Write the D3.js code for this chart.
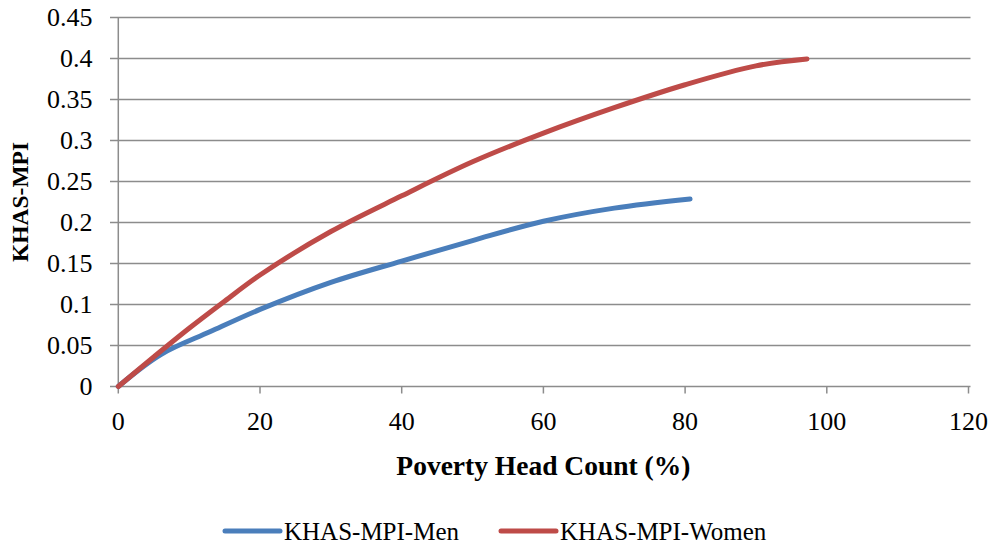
<!DOCTYPE html>
<html><head><meta charset="utf-8">
<script src="https://cdn.jsdelivr.net/npm/d3@7"></script>
<style>body{margin:0;background:#fff}</style>
</head><body>
<svg id="chart" width="995" height="546"></svg>
<script>
// ---- data ----
const menX   = [0, 6, 13, 20, 30, 40, 50, 60, 70, 80.7];
const menY   = [0, 0.039, 0.067, 0.094, 0.127, 0.153, 0.178, 0.2015, 0.2175, 0.2287];
const womenX = [0, 5, 10, 15, 20, 30, 40, 50, 60, 70, 80, 90, 97.2];
const womenY = [0, 0.036, 0.071, 0.104, 0.136, 0.189, 0.2325, 0.274, 0.309, 0.34, 0.368, 0.391, 0.3994];
const xTicks = [0, 20, 40, 60, 80, 100, 120];
const yTicks = [0, 0.05, 0.1, 0.15, 0.2, 0.25, 0.3, 0.35, 0.4, 0.45];
const yTickLabels = ["0", "0.05", "0.1", "0.15", "0.2", "0.25", "0.3", "0.35", "0.4", "0.45"];
const seriesNames = ["KHAS-MPI-Men", "KHAS-MPI-Women"];
const xTitle = "Poverty Head Count (%)";
const yTitle = "KHAS-MPI";

// ---- setup ----
const colors = ["#4a7ebb", "#be4b48"];
const font = "'Liberation Serif', 'Times New Roman', serif";
const gridColor = "#8c8c8c";
const svg = d3.select("#chart");
const x = d3.scaleLinear().domain([0, 120]).range([118.3, 968.5]);
const y = d3.scaleLinear().domain([0, 0.45]).range([386.5, 17.5]);

// gridlines + y tick labels
const yAxis = svg.append("g");
yAxis.selectAll("line").data(yTicks).join("line")
  .attr("x1", 110).attr("x2", x(120) + 2)
  .attr("y1", d => y(d)).attr("y2", d => y(d))
  .attr("stroke", gridColor).attr("stroke-width", 1.5);
yAxis.selectAll("text").data(yTicks).join("text")
  .attr("x", 92.5).attr("y", d => y(d) + 8.8)
  .attr("text-anchor", "end")
  .attr("font-family", font).attr("font-size", 26).attr("fill", "#000")
  .text((d, i) => yTickLabels[i]);

// vertical axis line
svg.append("line").attr("x1", x(0)).attr("x2", x(0)).attr("y1", y(0.45)).attr("y2", y(0))
  .attr("stroke", gridColor).attr("stroke-width", 1.5);

// x ticks + labels
const xAxis = svg.append("g");
xAxis.selectAll("line").data(xTicks).join("line")
  .attr("x1", d => x(d)).attr("x2", d => x(d))
  .attr("y1", y(0)).attr("y2", y(0) + 7)
  .attr("stroke", gridColor).attr("stroke-width", 1.5);
xAxis.selectAll("text").data(xTicks).join("text")
  .attr("x", d => x(d)).attr("y", 430)
  .attr("text-anchor", "middle")
  .attr("font-family", font).attr("font-size", 26).attr("fill", "#000")
  .text(d => d);

// axis titles
svg.append("text").attr("x", (x(0) + x(120)) / 2).attr("y", 475)
  .attr("text-anchor", "middle").attr("font-family", font)
  .attr("font-weight", "bold").attr("font-size", 27.5).text(xTitle);
svg.append("text").attr("transform", `translate(28,${(y(0) + y(0.45)) / 2}) rotate(-90)`)
  .attr("text-anchor", "middle").attr("font-family", font)
  .attr("font-weight", "bold").attr("font-size", 23.5).text(yTitle);

// lines
const line = d3.line().x(d => x(d[0])).y(d => y(d[1])).curve(d3.curveCatmullRom.alpha(0.5));
const series = [d3.zip(menX, menY), d3.zip(womenX, womenY)];
series.forEach((s, i) => {
  svg.append("path").datum(s).attr("d", line)
    .attr("fill", "none").attr("stroke", colors[i]).attr("stroke-width", 5)
    .attr("stroke-linecap", "round").attr("stroke-linejoin", "round");
});

// legend
const legendX = [225, 501];
seriesNames.forEach((n, i) => {
  svg.append("line").attr("x1", legendX[i]).attr("x2", legendX[i] + 55)
    .attr("y1", 531).attr("y2", 531)
    .attr("stroke", colors[i]).attr("stroke-width", 5).attr("stroke-linecap", "round");
  svg.append("text").attr("x", legendX[i] + 59).attr("y", 540)
    .attr("font-family", font).attr("font-size", 25).text(n);
});
</script>
</body></html>
